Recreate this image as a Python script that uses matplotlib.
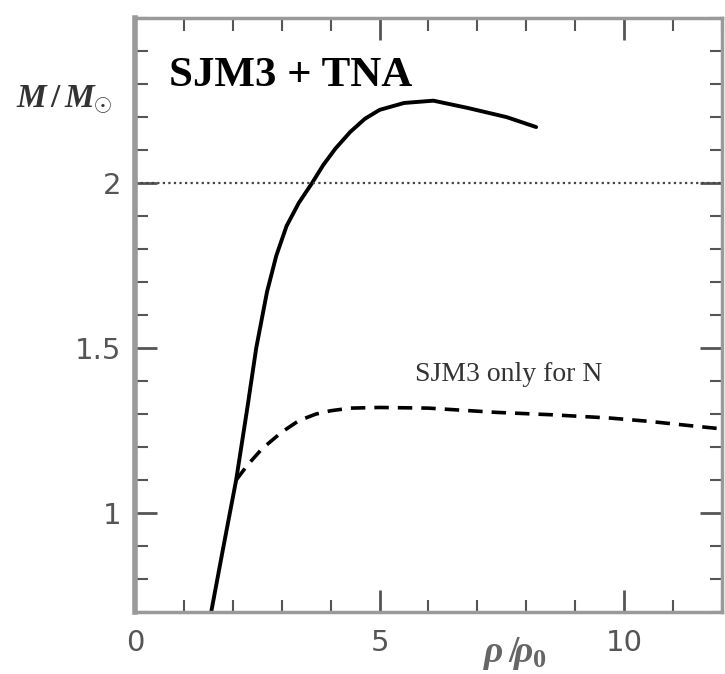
import numpy as np
import matplotlib
matplotlib.use("Agg")
import matplotlib.pyplot as plt
from matplotlib.ticker import MultipleLocator

# solid curve: SJM3 + TNA
rho_tna = [1.56, 1.8, 2.07, 2.3, 2.48, 2.7, 2.89, 3.1, 3.35, 3.62, 3.85, 4.1, 4.4,
           4.7, 5.0, 5.5, 6.1, 6.8, 7.6, 8.2]
m_tna = [0.70, 0.89, 1.10, 1.32, 1.50, 1.67, 1.78, 1.87, 1.94, 2.00, 2.055, 2.105, 2.155,
         2.195, 2.222, 2.243, 2.25, 2.228, 2.20, 2.17]

# dashed curve: SJM3 only for N
rho_n = [2.07, 2.3, 2.6, 3.0, 3.35, 3.7, 4.0, 4.4, 5.0, 6.0, 7.4, 8.5, 9.7, 10.5, 11.4, 12.0]
m_n = [1.10, 1.145, 1.195, 1.245, 1.28, 1.30, 1.31, 1.318, 1.32, 1.318, 1.305, 1.298,
       1.288, 1.278, 1.264, 1.255]

xlim = (0, 12)
ylim = (0.7, 2.5)
x_major = [0, 5, 10]
y_major = [1, 1.5, 2]
y_labels = ["1", "1.5", "2"]

axis_gray = "#9a9a9a"
label_gray = "#555555"

plt.rcParams["mathtext.fontset"] = "custom"
plt.rcParams["mathtext.it"] = "Liberation Serif:italic:bold"
plt.rcParams["mathtext.rm"] = "Liberation Serif:bold"

fig = plt.figure(figsize=(7.25, 6.74), dpi=100)
ax = fig.add_axes([0.186, 0.092, 0.810, 0.881])

ax.plot(rho_tna, m_tna, color="black", lw=2.8, solid_capstyle="round")
ax.plot(rho_n, m_n, color="black", lw=2.6, ls=(0, (4, 2.5)))
ax.axhline(2.0, color="#444444", lw=1.6, ls=(0, (1, 1.5)))

ax.set_xlim(*xlim)
ax.set_ylim(*ylim)
ax.set_xticks(x_major)
ax.set_yticks(y_major)
ax.set_yticklabels(y_labels)
ax.xaxis.set_minor_locator(MultipleLocator(1))
ax.yaxis.set_minor_locator(MultipleLocator(0.1))

for s in ax.spines.values():
    s.set_color(axis_gray)
    s.set_linewidth(2.5)
ax.spines["left"].set_linewidth(4)

ax.tick_params(which="both", direction="in", top=True, right=True,
               color="#555555", labelcolor=label_gray, labelsize=21)
ax.tick_params(which="major", length=16, width=2)
ax.tick_params(which="minor", length=9, width=1.5)
ax.tick_params(axis="x", pad=12)
ax.tick_params(axis="y", pad=10)

serif = ["Liberation Serif", "DejaVu Serif"]
ax.text(0.70, 2.325, "SJM3 + TNA", fontsize=31, fontweight="bold",
        family=serif, va="center", ha="left")
ax.text(5.72, 1.42, "SJM3 only for N", fontsize=20, family=serif,
        color="#333333", va="center", ha="left")

fig.text(0.022, 0.852, r"$M\,/\,M_{\odot}$", fontsize=24, color="#333333",
         ha="left", va="center")
fig.text(0.71, 0.030, r"$\rho\,/\!\rho_0$", fontsize=27, color="#666666",
         ha="center", va="center")

fig.savefig("out.png", dpi=100)
